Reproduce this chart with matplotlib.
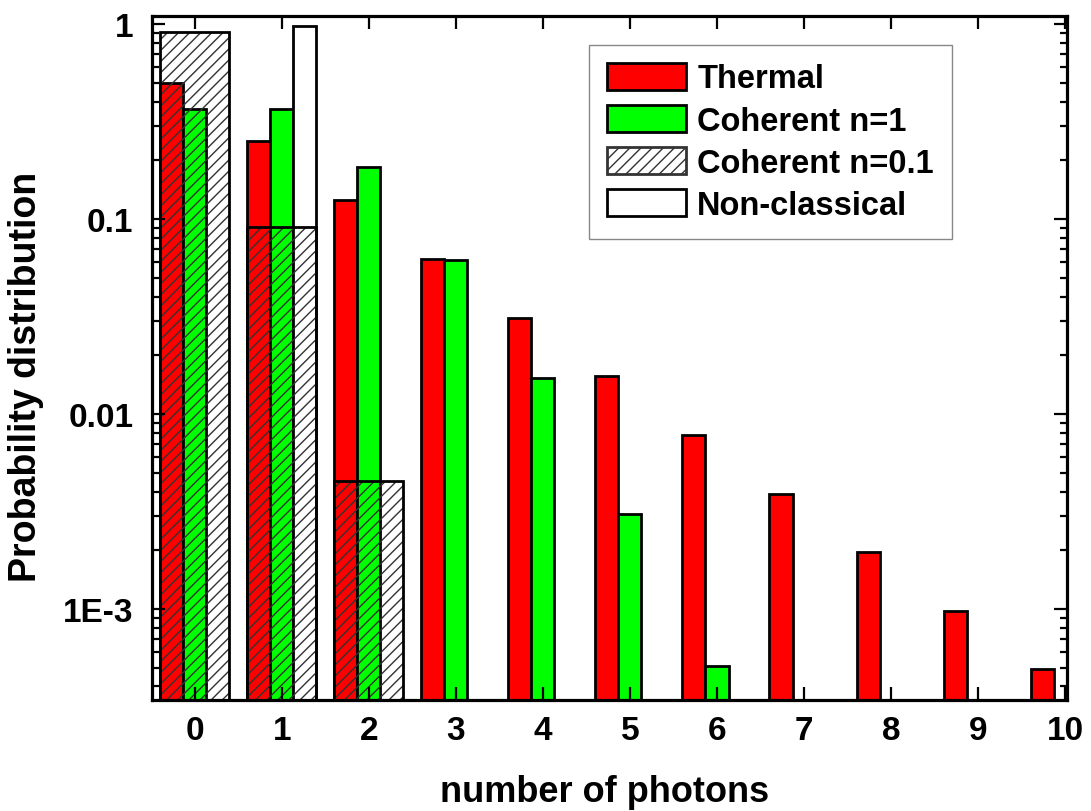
import matplotlib
matplotlib.use("Agg")
import matplotlib.pyplot as plt
from matplotlib.patches import Patch
from matplotlib.ticker import LogLocator, NullFormatter
import numpy as np

plt.rcParams['font.family'] = ['Liberation Sans', 'DejaVu Sans']
plt.rcParams['font.weight'] = 'bold'
plt.rcParams['hatch.linewidth'] = 1.0

# photon number distributions
n_thermal = np.arange(0, 11)
p_thermal = [0.5, 0.25, 0.125, 0.0625, 0.0312, 0.0156, 0.0078, 0.0039, 0.00195, 0.00098, 0.00049]

n_coh1 = np.arange(0, 7)
p_coh1 = [0.368, 0.368, 0.184, 0.0613, 0.0153, 0.00307, 0.00051]

n_coh01 = np.arange(0, 3)
p_coh01 = [0.905, 0.0905, 0.00452]

n_noncl = [1]
p_noncl = [0.98]

xticks = list(range(0, 11))
yticks = [1e-3, 0.01, 0.1, 1]
ytick_labels = ['1E-3', '0.01', '0.1', '1']

w = 0.265
lw = 2.0
base = 1e-6

fig = plt.figure(figsize=(10.91, 8.12), dpi=100)
ax = fig.add_axes([0.1393, 0.1367, 0.8387, 0.8424])

ax.bar(n_thermal - w, np.array(p_thermal) - base, width=w, bottom=base,
       color='#ff0000', edgecolor='black', linewidth=lw)
ax.bar(n_coh1, np.array(p_coh1) - base, width=w, bottom=base,
       color='#00ff00', edgecolor='black', linewidth=lw)
ax.bar(np.array(n_noncl) + w, np.array(p_noncl) - base, width=w, bottom=base,
       color='white', edgecolor='black', linewidth=lw)
# wide hatched bar laid over the whole group
ax.bar(n_coh01, np.array(p_coh01) - base, width=3 * w, bottom=base,
       facecolor='none', edgecolor='#333333', hatch='///', linewidth=0)
ax.bar(n_coh01, np.array(p_coh01) - base, width=3 * w, bottom=base,
       facecolor='none', edgecolor='black', linewidth=lw)

ax.set_yscale('log')
ax.set_xlim(-0.49, 10.02)
ax.set_ylim(3.41e-4, 1.099)

ax.set_xticks(xticks)
ax.set_xticklabels([str(v) for v in xticks])
ax.set_yticks(yticks)
ax.set_yticklabels(ytick_labels)
ax.yaxis.set_minor_locator(LogLocator(base=10, subs=np.arange(2, 10)))
ax.yaxis.set_minor_formatter(NullFormatter())

ax.tick_params(which='both', direction='in', top=True, right=True, width=1.6)
ax.tick_params(which='major', length=9.5)
ax.tick_params(which='minor', length=5)
ax.tick_params(axis='x', labelsize=24, pad=11)
ax.tick_params(axis='y', labelsize=24, pad=13.5)
for s in ax.spines.values():
    s.set_linewidth(2.3)

ax.set_ylabel('Probability distribution', fontsize=27, fontweight='bold')
ax.yaxis.set_label_coords(-0.118, 0.474)
ax.set_xlabel('number of photons', fontsize=26, fontweight='bold')
ax.xaxis.set_label_coords(0.495, -0.108)

handles = [
    Patch(facecolor='#ff0000', edgecolor='black', linewidth=lw),
    Patch(facecolor='#00ff00', edgecolor='black', linewidth=lw),
    Patch(facecolor='white', edgecolor='#333333', hatch='///', linewidth=lw),
    Patch(facecolor='white', edgecolor='black', linewidth=lw),
]
labels = ['Thermal', 'Coherent n=1', 'Coherent n=0.1', 'Non-classical']
leg = ax.legend(handles, labels, loc='upper right', bbox_to_anchor=(0.874, 0.958),
                fontsize=23.5, frameon=True, fancybox=False, framealpha=1,
                handlelength=2.4, handleheight=0.9, handletextpad=0.35,
                labelspacing=0.32, borderpad=0.55, borderaxespad=0)
leg.get_frame().set_edgecolor('#888888')
leg.get_frame().set_linewidth(1.0)

fig.savefig('out.png', dpi=100)
